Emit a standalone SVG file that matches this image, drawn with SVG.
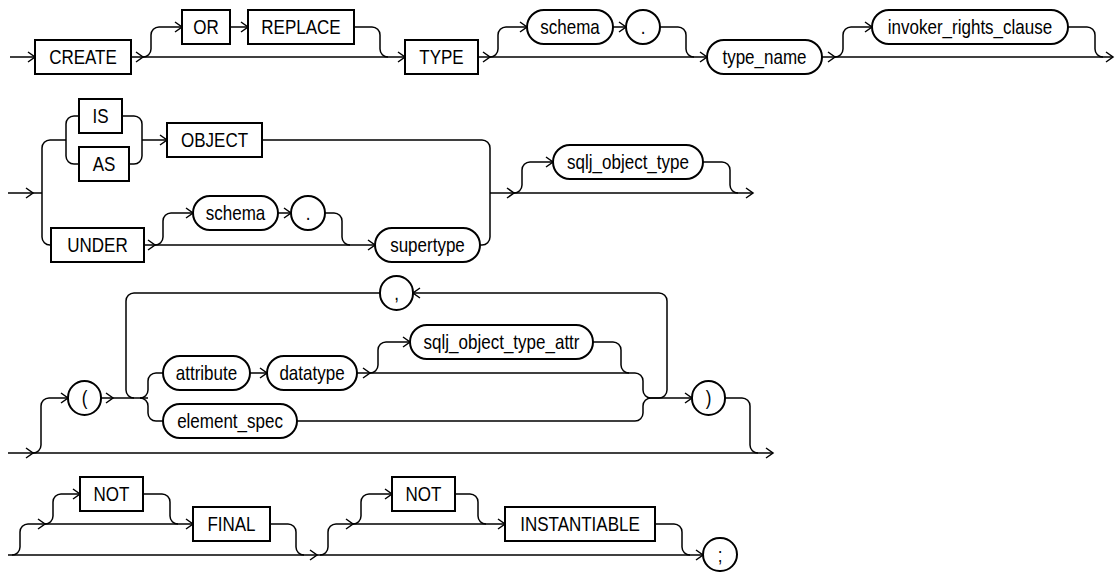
<svg xmlns="http://www.w3.org/2000/svg" xmlns:xlink="http://www.w3.org/1999/xlink" width="1117" height="572" viewBox="0 0 1117 572">
<style>
.b{fill:#fff;stroke:#000;stroke-width:2}
.c{fill:none;stroke:#000;stroke-width:1.5}
.a{fill:none;stroke:#000;stroke-width:1.5;stroke-linejoin:miter}
text{font-family:"Liberation Sans",Arial,sans-serif;font-size:21px;fill:#000;text-anchor:middle;transform-box:fill-box;transform-origin:center;transform:scaleX(0.81)}
</style>
<defs>
<path id="ar" class="a" d="M-7,-5 L0,0 L-7,5"/>
<path id="al" class="a" d="M7,-5 L0,0 L7,5"/>
</defs>
<rect width="1117" height="572" fill="#fff"/>
<g id="connectors">
<!-- row 1 -->
<path class="c" d="M10,57 H35"/>
<path class="c" d="M131,57 H405"/>
<path class="c" d="M143,57 A8,8 0 0 0 151,49 V35 A8,8 0 0 1 159,27 H182"/>
<path class="c" d="M230,27 H248"/>
<path class="c" d="M354,27 H372 A8,8 0 0 1 380,35 V49 A8,8 0 0 0 388,57"/>
<path class="c" d="M478,57 H707"/>
<path class="c" d="M490,57 A8,8 0 0 0 498,49 V35 A8,8 0 0 1 506,27 H527"/>
<path class="c" d="M613,27 H626"/>
<path class="c" d="M660,27 H678 A8,8 0 0 1 686,35 V49 A8,8 0 0 0 694,57"/>
<path class="c" d="M822,57 H1113"/>
<path class="c" d="M835,57 A8,8 0 0 0 843,49 V35 A8,8 0 0 1 851,27 H872"/>
<path class="c" d="M1068,27 H1087 A8,8 0 0 1 1095,35 V49 A8,8 0 0 0 1103,57"/>
<use xlink:href="#ar" x="35" y="57"/>
<use xlink:href="#ar" x="143" y="57"/>
<use xlink:href="#ar" x="182" y="27"/>
<use xlink:href="#ar" x="248" y="27"/>
<use xlink:href="#ar" x="405" y="57"/>
<use xlink:href="#ar" x="490" y="57"/>
<use xlink:href="#ar" x="527" y="27"/>
<use xlink:href="#ar" x="626" y="27"/>
<use xlink:href="#ar" x="707" y="57"/>
<use xlink:href="#ar" x="835" y="57"/>
<use xlink:href="#ar" x="872" y="27"/>
<use xlink:href="#ar" x="1113" y="57"/>
<!-- row 2 -->
<path class="c" d="M8,193 H42"/>
<path class="c" d="M66,140 H50 A8,8 0 0 0 42,148 V237 A8,8 0 0 0 50,245 H51"/>
<path class="c" d="M79,116 H74 A8,8 0 0 0 66,124 V156 A8,8 0 0 0 74,164 H79"/>
<path class="c" d="M122,116 H134 A8,8 0 0 1 142,124 V156 A8,8 0 0 1 134,164 H129"/>
<path class="c" d="M142,140 H167"/>
<path class="c" d="M144,245 H375"/>
<path class="c" d="M155,245 A8,8 0 0 0 163,237 V221 A8,8 0 0 1 171,213 H193"/>
<path class="c" d="M278,213 H291"/>
<path class="c" d="M325,213 H334 A8,8 0 0 1 342,221 V237 A8,8 0 0 0 350,245"/>
<path class="c" d="M262,140 H482 A8,8 0 0 1 490,148 V237 A8,8 0 0 1 482,245 H480"/>
<path class="c" d="M490,193 H753"/>
<path class="c" d="M514,193 A8,8 0 0 0 522,185 V170 A8,8 0 0 1 530,162 H553"/>
<path class="c" d="M703,162 H722 A8,8 0 0 1 730,170 V185 A8,8 0 0 0 738,193"/>
<use xlink:href="#ar" x="33" y="193"/>
<use xlink:href="#ar" x="167" y="140"/>
<use xlink:href="#ar" x="155" y="245"/>
<use xlink:href="#ar" x="193" y="213"/>
<use xlink:href="#ar" x="291" y="213"/>
<use xlink:href="#ar" x="375" y="245"/>
<use xlink:href="#ar" x="514" y="193"/>
<use xlink:href="#ar" x="553" y="162"/>
<use xlink:href="#ar" x="753" y="193"/>
<!-- row 3 -->
<path class="c" d="M8,453 H773"/>
<path class="c" d="M33,453 A8,8 0 0 0 41,445 V406 A8,8 0 0 1 49,398 H68"/>
<path class="c" d="M101,398 H148"/>
<path class="c" d="M380,293 H134 A8,8 0 0 0 126,301 V390 A8,8 0 0 0 134,398"/>
<path class="c" d="M140,398 A8,8 0 0 0 148,390 V381 A8,8 0 0 1 156,373 H163"/>
<path class="c" d="M140,398 A8,8 0 0 1 148,406 V413 A8,8 0 0 0 156,421 H163"/>
<path class="c" d="M250,373 H267"/>
<path class="c" d="M357,373 H635 A8,8 0 0 1 643,381 V390 A8,8 0 0 0 651,398"/>
<path class="c" d="M297,421 H635 A8,8 0 0 0 643,413 V406 A8,8 0 0 1 651,398"/>
<path class="c" d="M370,373 A8,8 0 0 0 378,365 V350 A8,8 0 0 1 386,342 H410"/>
<path class="c" d="M593,342 H613 A8,8 0 0 1 621,350 V365 A8,8 0 0 0 629,373"/>
<path class="c" d="M651,398 H692"/>
<path class="c" d="M651,398 H659 A8,8 0 0 0 667,390 V301 A8,8 0 0 0 659,293 H413"/>
<path class="c" d="M725,398 H742 A8,8 0 0 1 750,406 V445 A8,8 0 0 0 758,453"/>
<use xlink:href="#ar" x="33" y="453"/>
<use xlink:href="#ar" x="68" y="398"/>
<use xlink:href="#ar" x="113" y="398"/>
<use xlink:href="#ar" x="267" y="373"/>
<use xlink:href="#ar" x="370" y="373"/>
<use xlink:href="#ar" x="410" y="342"/>
<use xlink:href="#al" x="413" y="293"/>
<use xlink:href="#ar" x="692" y="398"/>
<use xlink:href="#ar" x="773" y="453"/>
<!-- row 4 -->
<path class="c" d="M8,555 H703"/>
<path class="c" d="M12,555 A8,8 0 0 0 20,547 V532 A8,8 0 0 1 28,524 H193"/>
<path class="c" d="M45,524 A8,8 0 0 0 53,516 V502 A8,8 0 0 1 61,494 H80"/>
<path class="c" d="M143,494 H162 A8,8 0 0 1 170,502 V516 A8,8 0 0 0 178,524"/>
<path class="c" d="M270,524 H288 A8,8 0 0 1 296,532 V547 A8,8 0 0 0 304,555"/>
<path class="c" d="M320,555 A8,8 0 0 0 328,547 V532 A8,8 0 0 1 336,524 H505"/>
<path class="c" d="M353,524 A8,8 0 0 0 361,516 V502 A8,8 0 0 1 369,494 H392"/>
<path class="c" d="M455,494 H470 A8,8 0 0 1 478,502 V516 A8,8 0 0 0 486,524"/>
<path class="c" d="M655,524 H674 A8,8 0 0 1 682,532 V547 A8,8 0 0 0 690,555"/>
<use xlink:href="#ar" x="45" y="524"/>
<use xlink:href="#ar" x="80" y="494"/>
<use xlink:href="#ar" x="193" y="524"/>
<use xlink:href="#ar" x="317" y="555"/>
<use xlink:href="#ar" x="353" y="524"/>
<use xlink:href="#ar" x="392" y="494"/>
<use xlink:href="#ar" x="505" y="524"/>
<use xlink:href="#ar" x="703" y="555"/>
</g>
<!-- row 1 nodes -->
<g id="n_create"><rect class="b" x="35" y="40" width="96" height="34"/><text x="83" y="64">CREATE</text></g>
<g id="n_or"><rect class="b" x="182" y="10" width="48" height="34"/><text x="206" y="34">OR</text></g>
<g id="n_replace"><rect class="b" x="248" y="10" width="106" height="34"/><text x="301" y="34">REPLACE</text></g>
<g id="n_type"><rect class="b" x="405" y="40" width="73" height="34"/><text x="441.5" y="64">TYPE</text></g>
<g id="n_schema1"><rect class="b" x="527" y="10" width="86" height="34" rx="17"/><text x="570" y="34">schema</text></g>
<g id="n_dot1"><rect class="b" x="626" y="10" width="34" height="34" rx="17"/><text x="643" y="34">.</text></g>
<g id="n_type_name"><rect class="b" x="707" y="40" width="115" height="34" rx="17"/><text x="764.5" y="64">type_name</text></g>
<g id="n_invoker"><rect class="b" x="872" y="10" width="196" height="34" rx="17"/><text x="970" y="34">invoker_rights_clause</text></g>
<!-- row 2 nodes -->
<g id="n_is"><rect class="b" x="79" y="99" width="43" height="34"/><text x="100.5" y="123">IS</text></g>
<g id="n_as"><rect class="b" x="79" y="147" width="50" height="34"/><text x="104" y="171">AS</text></g>
<g id="n_object"><rect class="b" x="167" y="123" width="95" height="34"/><text x="214.5" y="147">OBJECT</text></g>
<g id="n_under"><rect class="b" x="51" y="228" width="93" height="34"/><text x="97.5" y="252">UNDER</text></g>
<g id="n_schema2"><rect class="b" x="193" y="196" width="85" height="34" rx="17"/><text x="235.5" y="220">schema</text></g>
<g id="n_dot2"><rect class="b" x="291" y="196" width="34" height="34" rx="17"/><text x="308" y="220">.</text></g>
<g id="n_supertype"><rect class="b" x="375" y="228" width="105" height="34" rx="17"/><text x="427.5" y="252">supertype</text></g>
<g id="n_sqlj_object_type"><rect class="b" x="553" y="145" width="150" height="34" rx="17"/><text x="628" y="169">sqlj_object_type</text></g>
<!-- row 3 nodes -->
<g id="n_lparen"><rect class="b" x="68" y="381" width="33" height="34" rx="16.5"/><text x="84.5" y="405">(</text></g>
<g id="n_comma"><rect class="b" x="380" y="276" width="33" height="34" rx="16.5"/><text x="396.5" y="300">,</text></g>
<g id="n_attribute"><rect class="b" x="163" y="356" width="87" height="34" rx="17"/><text x="206.5" y="380">attribute</text></g>
<g id="n_datatype"><rect class="b" x="267" y="356" width="90" height="34" rx="17"/><text x="312" y="380">datatype</text></g>
<g id="n_sqlj_attr"><rect class="b" x="410" y="325" width="183" height="34" rx="17"/><text x="501.5" y="349">sqlj_object_type_attr</text></g>
<g id="n_element_spec"><rect class="b" x="163" y="404" width="134" height="34" rx="17"/><text x="230" y="428">element_spec</text></g>
<g id="n_rparen"><rect class="b" x="692" y="381" width="33" height="34" rx="16.5"/><text x="708.5" y="405">)</text></g>
<!-- row 4 nodes -->
<g id="n_not1"><rect class="b" x="80" y="477" width="63" height="34"/><text x="111.5" y="501">NOT</text></g>
<g id="n_final"><rect class="b" x="193" y="507" width="77" height="34"/><text x="231.5" y="531">FINAL</text></g>
<g id="n_not2"><rect class="b" x="392" y="477" width="63" height="34"/><text x="423.5" y="501">NOT</text></g>
<g id="n_instantiable"><rect class="b" x="505" y="507" width="150" height="34"/><text x="580" y="531">INSTANTIABLE</text></g>
<g id="n_semicolon"><rect class="b" x="703" y="538" width="34" height="33" rx="16.5"/><text x="720" y="562">;</text></g>
</svg>
